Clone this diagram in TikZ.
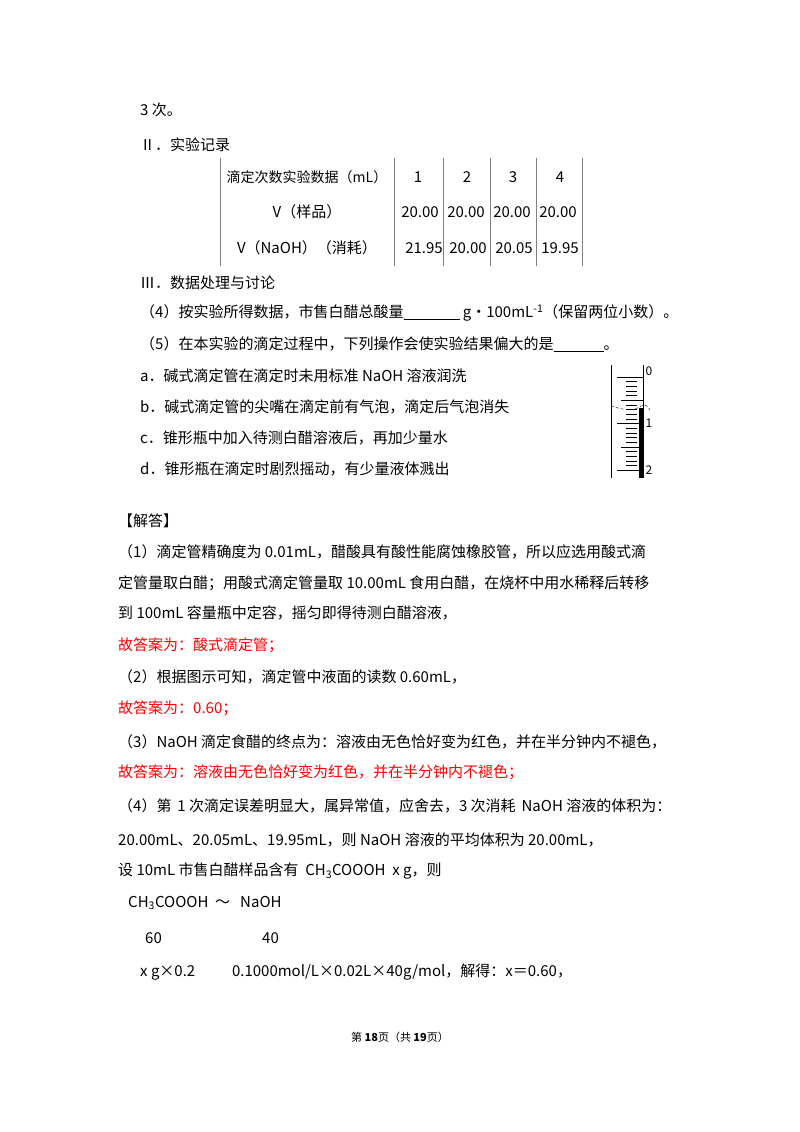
\documentclass[tikz,border=0pt]{standalone}
\usepackage{fontspec}
\setmainfont{Noto Sans CJK SC}
\begin{document}
\begin{tikzpicture}[x=1pt,y=-1pt,font=\fontsize{15}{17}\selectfont,
  t/.style={anchor=west,inner sep=0pt},
  r/.style={t,text=red},
  c/.style={anchor=center,inner sep=0pt}]
\useasboundingbox[fill=white] (0,0) rectangle (800,1132);
\node[t] (l0) at (140,110) {3 次。};
\node[t] (l1) at (140,145) {Ⅱ．实验记录};
% table
\foreach \x in {220,394,443,490,536,582} \draw[gray] (\x,158) -- (\x,266);
\node[c,font=\fontsize{14}{16}\selectfont] (h0) at (307,177) {滴定次数实验数据（mL）};
\node[c] (h1) at (418,177) {1};
\node[c] (h2) at (467,177) {2};
\node[c] (h3) at (513,177) {3};
\node[c] (h4) at (560,177) {4};
\node[c] (s0) at (307,212) {V（样品）};
\foreach \x in {420,466,512,558} \node[c] at (\x,212) {20.00};
\node[c] (n0) at (307,248) {V（NaOH）（消耗）};
\node[c] at (424,248) {21.95};
\node[c] at (468,248) {20.00};
\node[c] at (514,248) {20.05};
\node[c] at (560,248) {19.95};
\node[t] (l2) at (140,283) {Ⅲ．数据处理与讨论};
\node[t] (l3) at (140,313) {（4）按实验所得数据，市售白醋总酸量\rule[-2pt]{56pt}{0.8pt} g•100mL\textsuperscript{-1}（保留两位小数）。};
\node[t] (l4) at (140,344) {（5）在本实验的滴定过程中，下列操作会使实验结果偏大的是\rule[-2pt]{50pt}{0.5pt}。};
\node[t] (la) at (140,376) {a．碱式滴定管在滴定时未用标准 NaOH 溶液润洗};
\node[t] (lb) at (140,407) {b．碱式滴定管的尖嘴在滴定前有气泡，滴定后气泡消失};
\node[t] (lc) at (140,438) {c．锥形瓶中加入待测白醋溶液后，再加少量水};
\node[t] (ld) at (140,469) {d．锥形瓶在滴定时剧烈摇动，有少量液体溅出};
% burette
\draw[thick] (611,365) -- (611,478);
\draw (643,365) -- (643,478);
\foreach \i in {0,...,20} {
  \pgfmathsetmacro\yy{377+\i*4.65}
  \pgfmathtruncatemacro\m{mod(\i,10)}
  \pgfmathtruncatemacro\h{mod(\i,5)}
  \ifnum\m=0 \draw (617,\yy) -- (643,\yy);
  \else\ifnum\h=0 \draw (621,\yy) -- (643,\yy);
  \else \draw (626,\yy) -- (637,\yy); \fi\fi }
\fill (639,408) rectangle (643,478);
\draw[densely dashed] (611,406) .. controls (625,410) and (632,412) .. (641,406) .. controls (645,404) and (648,406) .. (650,410);
\node[c,font=\fontsize{12}{12}\selectfont] (b0) at (649,371) {0};
\node[c,font=\fontsize{12}{12}\selectfont] (b1) at (649,423) {1};
\node[c,font=\fontsize{12}{12}\selectfont] (b2) at (649,470) {2};
% answer
\node[t] (s) at (118,521) {【解答】};
\node[t] (a1) at (118,552) {（1）滴定管精确度为 0.01mL，醋酸具有酸性能腐蚀橡胶管，所以应选用酸式滴};
\node[t] (a2) at (118,583) {定管量取白醋；用酸式滴定管量取 10.00mL 食用白醋，在烧杯中用水稀释后转移};
\node[t] (a3) at (118,613) {到 100mL 容量瓶中定容，摇匀即得待测白醋溶液，};
\node[r] (a4) at (118,645) {故答案为：酸式滴定管；};
\node[t] (a5) at (118,677) {（2）根据图示可知，滴定管中液面的读数 0.60mL，};
\node[r] (a6) at (118,708) {故答案为：0.60；};
\node[t] (a7) at (118,742) {（3）NaOH 滴定食醋的终点为：溶液由无色恰好变为红色，并在半分钟内不褪色，};
\node[r] (a8) at (118,772) {故答案为：溶液由无色恰好变为红色，并在半分钟内不褪色；};
\node[t] (a9) at (118,806) {（4）第 \,1 次滴定误差明显大，属异常值，应舍去，3 次消耗 \,NaOH 溶液的体积为：};
\node[t] (a10) at (118,840) {20.00mL、20.05mL、19.95mL，则 NaOH 溶液的平均体积为 20.00mL，};
\node[t] (a11) at (118,871) {设 10mL 市售白醋样品含有 \ CH\textsubscript{3}COOOH \ x g，则};
\node[t] (a12) at (128,903) {CH\textsubscript{3}COOOH \ ～ \ \ NaOH};
\node[t] (a13) at (145,938) {60};
\node[t] (a14) at (262,938) {40};
\node[t] (a15) at (140,972) {x g×0.2 \qquad\ 0.1000mol/L×0.02L×40g/mol，解得：x＝0.60，};
\node[c,font=\fontsize{11}{12}\selectfont] (f) at (400,1037) {第 \textbf{18}页（共 \textbf{19}页）};
\end{tikzpicture}
\end{document}
